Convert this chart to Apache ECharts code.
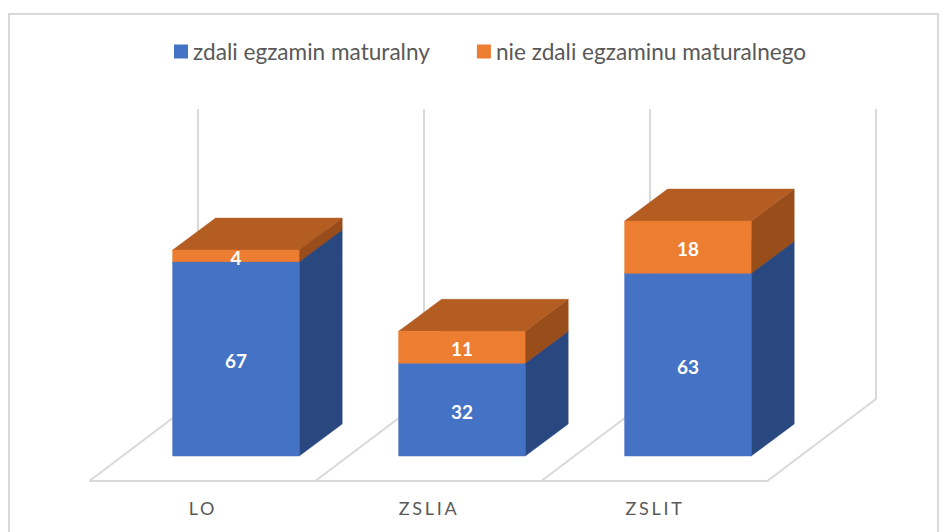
<!DOCTYPE html>
<html>
<head>
<meta charset="utf-8">
<script src="https://cdn.jsdelivr.net/npm/echarts@6/dist/echarts.min.js"></script>
<style>
html,body{margin:0;padding:0;background:#fff}
#c{width:949px;height:532px}
text[style*="CategoryFace"]{letter-spacing:2.7px}
</style>
</head>
<body>
<div id="c"></div>
<script>
const categories = ['LO', 'ZSLIA', 'ZSLIT'];
const passed = [67, 32, 63];
const failed = [4, 11, 18];
const passedName = 'zdali egzamin maturalny';
const failedName = 'nie zdali egzaminu maturalnego';
const boundaries = [0, 1, 2, 3];

const chart = echarts.init(document.getElementById('c'), null, {renderer: 'svg'});

const FLOOR = [108, -81.5];       // floor depth vector
const BAR_INSET = [32.9, -24.5];  // bar front offset into floor
const BAR_DEPTH = [43, -32];      // bar depth vector
const BAR_RATIO = 0.56;

function poly(points, fill) {
  return {type: 'polygon', shape: {points}, style: {fill, stroke: fill, lineWidth: 0.5}};
}

function boxRenderer(front, side, top, valuesBelow, values) {
  return function (params, api) {
    const i = api.value(0);
    const base = valuesBelow ? valuesBelow[i] : 0;
    const v = values[i];
    const c0 = api.coord([i, base]);
    const c1 = api.coord([i, base + v]);
    const w = api.size([1, 0])[0] * BAR_RATIO;
    const xl = c0[0] - w / 2 + BAR_INSET[0];
    const xr = xl + w;
    const yb = c0[1] + BAR_INSET[1];
    const yt = c1[1] + BAR_INSET[1];
    const dx = BAR_DEPTH[0], dy = BAR_DEPTH[1];
    const children = [
      poly([[xr, yb], [xr + dx, yb + dy], [xr + dx, yt + dy], [xr, yt]], side),
      poly([[xl, yt], [xr, yt], [xr + dx, yt + dy], [xl + dx, yt + dy]], top),
      poly([[xl, yb], [xr, yb], [xr, yt], [xl, yt]], front),
      {
        type: 'text',
        z2: 10,
        style: {
          x: (xl + xr) / 2,
          y: (yb + yt) / 2 + 1.5,
          text: String(v),
          fill: '#ffffff',
          font: 'bold 19px Lato, "Open Sans", sans-serif',
          align: 'center',
          verticalAlign: 'middle'
        }
      }
    ];
    return {type: 'group', children};
  };
}

function wallRenderer(params, api) {
  const b = api.value(0);
  const step = api.size([1, 0])[0];
  const start = api.coord([0, 0]);
  const top = api.coord([0, 100]);
  const x = start[0] - step / 2 + b * step;
  const y = start[1];
  const bx = x + FLOOR[0], by = y + FLOOR[1];
  return {
    type: 'polyline',
    shape: {points: [[x, y], [bx, by], [bx, top[1] + FLOOR[1]]]},
    style: {fill: 'none', stroke: '#d9d9d9', lineWidth: 2}
  };
}

chart.setOption({
  animation: false,
  backgroundColor: '#ffffff',
  graphic: [{
    type: 'rect',
    silent: true,
    z: -10,
    shape: {x: 9, y: 14, width: 929, height: 540},
    style: {fill: '#ffffff', stroke: '#d9d9d9', lineWidth: 2}
  }],
  legend: {
    top: 35,
    left: 169,
    itemWidth: 14,
    itemHeight: 14,
    itemGap: 47,
    icon: 'rect',
    data: [passedName, failedName],
    textStyle: {color: '#595959', fontSize: 22.6, fontFamily: 'Lato, "Open Sans", sans-serif', padding: [0, 0, 0, 0]}
  },
  grid: {left: 90, width: 678, top: 190.5, height: 290},
  xAxis: {
    type: 'category',
    data: categories,
    boundaryGap: true,
    axisTick: {show: false},
    axisLine: {show: true, lineStyle: {color: '#d9d9d9', width: 2}},
    axisLabel: {
      margin: 18,
      color: '#595959',
      fontSize: 18,
      fontFamily: 'Lato, CategoryFace, sans-serif',
      formatter: v => v
    }
  },
  yAxis: {
    type: 'value',
    min: 0,
    max: 100,
    interval: 20,
    show: false,
    splitLine: {show: false}
  },
  series: [
    {
      type: 'custom',
      name: 'walls',
      silent: true,
      clip: false,
      z: 1,
      data: boundaries.map(b => [b]),
      renderItem: wallRenderer
    },
    {
      type: 'custom',
      name: passedName,
      clip: false,
      z: 2,
      itemStyle: {color: '#4472C4'},
      encode: {x: 0, y: 1},
      data: categories.map((c, i) => [i, passed[i]]),
      renderItem: boxRenderer('#4472C4', '#2A4880', '#33568F', null, passed)
    },
    {
      type: 'custom',
      name: failedName,
      clip: false,
      z: 3,
      itemStyle: {color: '#ED7D31'},
      encode: {x: 0, y: 1},
      data: categories.map((c, i) => [i, passed[i] + failed[i]]),
      renderItem: boxRenderer('#ED7D31', '#984D1B', '#B35D22', passed, failed)
    }
  ]
});
</script>
</body>
</html>
